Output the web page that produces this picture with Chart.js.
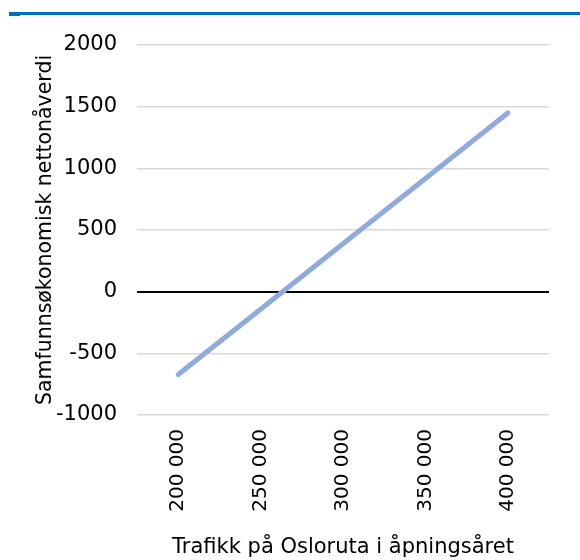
<!DOCTYPE html>
<html>
<head>
<meta charset="utf-8">
<script src="https://cdn.jsdelivr.net/npm/chart.js@4"></script>
<style>
  body { margin: 0; background: #fff; }
  #wrap { position: relative; width: 580px; height: 560px; }
  #topline { position: absolute; left: 9px; top: 12px; width: 571px; height: 3px; background: #0070C0; }
  #topline2 { position: absolute; left: 9px; top: 12px; width: 11px; height: 4px; background: #0070C0; }
</style>
</head>
<body>
<div id="wrap">
  <canvas id="chart" width="580" height="560"></canvas>
  <div id="topline"></div>
  <div id="topline2"></div>
</div>
<script>
// trafikk i åpningsåret og tilhørende netto nåverdi
var kategorier = ['200 000', '250 000', '300 000', '350 000', '400 000'];
var nettonaverdi = [-672, -142, 388, 918, 1449];
var yTicks = [-1000, -500, 0, 500, 1000, 1500, 2000];

var font = "'DejaVu Sans', sans-serif";

var ctx = document.getElementById('chart').getContext('2d');
var myChart = new Chart(ctx, {
    type: 'line',
    data: {
        labels: kategorier,
        datasets: [{
            data: nettonaverdi,
            borderColor: '#8FAADC',
            borderWidth: 5,
            borderCapStyle: 'round',
            pointRadius: 0,
            tension: 0,
            fill: false
        }]
    },
    options: {
        responsive: false,
        animation: false,
        layout: { padding: { left: 0, right: 31, top: 45, bottom: 0 } },
        plugins: { legend: { display: false }, tooltip: { enabled: false } },
        scales: {
            x: {
                offset: true,
                grid: { display: false, drawTicks: false },
                border: { display: false },
                ticks: {
                    minRotation: 90, maxRotation: 90,
                    color: '#000', padding: 14,
                    font: { family: font, size: 20 }
                },
                title: {
                    display: true, text: 'Trafikk på Osloruta i åpningsåret',
                    color: '#000', font: { family: font, size: 21 },
                    padding: { top: 14, bottom: 0 }
                },
                afterFit: function (s) { s.height = 145; }
            },
            y: {
                min: -1000, max: 2000,
                afterBuildTicks: function (s) { s.ticks = yTicks.map(function (v) { return { value: v }; }); },
                grid: {
                    drawTicks: false,
                    color: function (c) { return c.tick.value === 0 ? '#000' : '#d9d9d9'; },
                    lineWidth: function (c) { return c.tick.value === 0 ? 2 : 1.5; }
                },
                border: { display: false },
                ticks: {
                    color: '#000', padding: 20,
                    font: { family: font, size: 21 },
                    callback: function (v) { return String(v); }
                },
                title: {
                    display: true, text: 'Samfunnsøkonomisk nettonåverdi',
                    color: '#000', font: { family: font, size: 20.5 },
                    padding: { top: 33, bottom: 0 }
                },
                afterFit: function (s) { s.width = 137; }
            }
        }
    }
});
</script>
</body>
</html>
